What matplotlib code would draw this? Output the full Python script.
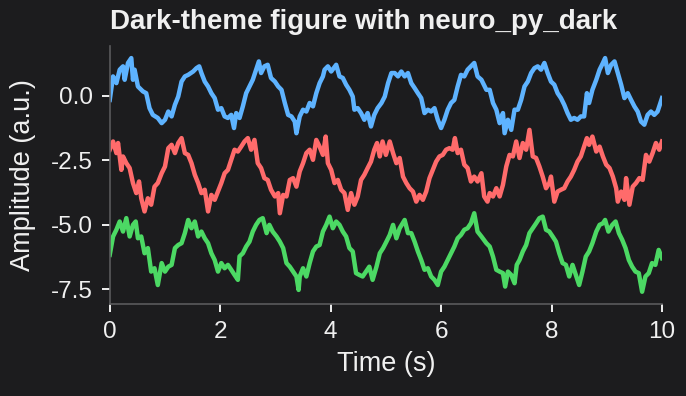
#!/usr/bin/env python3

import matplotlib
matplotlib.use("Agg")
import matplotlib.pyplot as plt


# values (time in s, amplitude in a.u.)
l_t_blue = [
    0.00, 0.06, 0.12, 0.18, 0.24, 0.27, 0.33, 0.39, 0.42, 0.45,
    0.51, 0.60, 0.66, 0.72, 0.78, 0.87, 0.94, 1.00, 1.06, 1.12,
    1.18, 1.24, 1.30, 1.36, 1.42, 1.51, 1.57, 1.62, 1.66, 1.72,
    1.78, 1.84, 1.90, 1.96, 2.02, 2.08, 2.14, 2.20, 2.25, 2.29,
    2.35, 2.41, 2.47, 2.53, 2.59, 2.65, 2.70, 2.74, 2.80, 2.86,
    2.92, 2.99, 3.05, 3.11, 3.17, 3.23, 3.29, 3.35, 3.38, 3.44,
    3.50, 3.56, 3.62, 3.68, 3.74, 3.80, 3.86, 3.89, 3.95, 4.01,
    4.10, 4.16, 4.22, 4.28, 4.34, 4.40, 4.43, 4.49, 4.55, 4.61,
    4.67, 4.73, 4.79, 4.85, 4.92, 4.98, 5.04, 5.10, 5.16, 5.22,
    5.28, 5.34, 5.40, 5.46, 5.52, 5.58, 5.64, 5.70, 5.76, 5.82,
    5.88, 5.94, 6.00, 6.06, 6.12, 6.18, 6.24, 6.30, 6.36, 6.42,
    6.48, 6.54, 6.60, 6.66, 6.73, 6.82, 6.88, 6.94, 7.00, 7.06,
    7.12, 7.15, 7.21, 7.27, 7.33, 7.39, 7.45, 7.51, 7.57, 7.63,
    7.69, 7.75, 7.81, 7.87, 7.93, 7.99, 8.05, 8.11, 8.17, 8.23,
    8.29, 8.35, 8.41, 8.47, 8.53, 8.59, 8.64, 8.68, 8.74, 8.81,
    8.87, 8.93, 8.97, 9.02, 9.08, 9.14, 9.20, 9.26, 9.32, 9.38,
    9.44, 9.50, 9.56, 9.62, 9.68, 9.74, 9.80, 9.86, 9.92, 10.00,
]
l_y_blue = [
    -0.16, 0.75, 0.49, 1.01, 1.14, 0.62, 1.27, 1.46, 0.62, 1.01,
    0.36, 0.17, 0.10, -0.48, -0.74, -0.86, -1.06, -0.93, -0.61, -0.80,
    -0.35, -0.03, 0.55, 0.75, 0.81, 0.94, 1.07, 1.14, 0.88, 0.55,
    0.36, 0.10, -0.09, -0.54, -0.48, -0.80, -0.86, -0.74, -1.25, -0.67,
    -0.86, -0.41, 0.10, 0.36, 0.62, 1.01, 1.33, 0.88, 1.14, 1.20,
    0.69, 0.55, 0.36, 0.23, -0.28, -0.74, -0.80, -1.00, -1.45, -0.80,
    -0.54, -0.61, -0.28, -0.41, 0.10, 0.49, 0.75, 1.01, 1.14, 0.94,
    1.20, 0.75, 0.69, 0.43, 0.23, -0.03, -0.54, -0.48, -0.67, -0.93,
    -0.67, -1.19, -0.74, -0.48, -0.28, -0.03, 0.49, 0.88, 0.88, 0.75,
    0.94, 0.75, 0.88, 0.49, 0.30, 0.10, -0.09, -0.67, -0.54, -0.61,
    -0.48, -0.93, -1.25, -0.93, -0.54, -0.28, -0.16, 0.36, 0.81, 0.75,
    1.01, 1.14, 1.27, 0.75, 0.62, 0.23, 0.23, -0.28, -0.54, -1.06,
    -0.67, -1.45, -0.93, -1.32, -0.54, -0.54, -0.16, 0.36, 0.55, 0.88,
    1.07, 1.14, 1.01, 1.27, 0.88, 0.55, 0.43, 0.10, -0.09, -0.35,
    -0.67, -0.93, -0.86, -0.93, -0.80, -0.80, 0.10, -0.28, 0.23, 0.62,
    1.01, 1.27, 1.46, 0.88, 1.20, 1.33, 0.88, 0.43, -0.09, 0.10,
    -0.16, -0.41, -0.61, -1.00, -1.12, -0.74, -0.61, -0.74, -0.61, -0.09,
]

l_t_red = [
    0.00, 0.06, 0.12, 0.15, 0.21, 0.24, 0.30, 0.36, 0.42, 0.48,
    0.53, 0.57, 0.63, 0.69, 0.75, 0.81, 0.87, 0.94, 1.00, 1.06,
    1.12, 1.18, 1.24, 1.30, 1.36, 1.42, 1.48, 1.54, 1.60, 1.66,
    1.72, 1.78, 1.84, 1.90, 1.96, 2.02, 2.08, 2.14, 2.20, 2.26,
    2.32, 2.38, 2.44, 2.50, 2.56, 2.62, 2.68, 2.74, 2.80, 2.86,
    2.92, 2.99, 3.05, 3.08, 3.14, 3.20, 3.26, 3.32, 3.38, 3.44,
    3.50, 3.56, 3.62, 3.68, 3.74, 3.80, 3.86, 3.91, 3.95, 4.01,
    4.07, 4.13, 4.19, 4.25, 4.31, 4.37, 4.43, 4.49, 4.55, 4.61,
    4.67, 4.73, 4.79, 4.84, 4.89, 4.94, 5.00, 5.07, 5.13, 5.19,
    5.25, 5.31, 5.37, 5.43, 5.49, 5.55, 5.61, 5.67, 5.73, 5.79,
    5.85, 5.91, 5.97, 6.03, 6.09, 6.15, 6.21, 6.25, 6.30, 6.36,
    6.42, 6.48, 6.54, 6.60, 6.66, 6.73, 6.78, 6.84, 6.88, 6.94,
    7.00, 7.06, 7.12, 7.18, 7.24, 7.30, 7.36, 7.42, 7.48, 7.54,
    7.60, 7.66, 7.72, 7.78, 7.84, 7.90, 7.96, 7.99, 8.05, 8.11,
    8.17, 8.23, 8.29, 8.35, 8.41, 8.47, 8.53, 8.59, 8.64, 8.68,
    8.74, 8.81, 8.87, 8.93, 8.99, 9.05, 9.11, 9.17, 9.20, 9.26,
    9.32, 9.35, 9.41, 9.47, 9.53, 9.59, 9.65, 9.71, 9.77, 9.83,
    9.89, 9.95, 10.00,
]
l_y_red = [
    -2.09, -1.77, -2.22, -1.83, -2.87, -2.35, -2.61, -2.80, -3.38, -3.77,
    -3.32, -3.97, -4.48, -3.97, -4.22, -3.52, -3.38, -3.00, -2.74, -2.03,
    -1.90, -2.22, -1.83, -1.64, -2.22, -2.29, -2.61, -3.06, -3.38, -3.77,
    -3.64, -4.48, -3.84, -4.03, -3.71, -3.38, -3.00, -2.87, -2.48, -2.09,
    -2.16, -1.97, -1.77, -1.64, -2.09, -1.71, -2.61, -2.80, -3.19, -3.26,
    -3.64, -3.90, -3.77, -4.55, -3.84, -3.90, -3.26, -3.19, -3.52, -2.93,
    -2.61, -2.22, -2.09, -2.48, -1.71, -1.97, -2.29, -1.58, -2.61, -2.87,
    -3.38, -3.26, -3.64, -3.77, -4.42, -3.77, -4.22, -3.90, -3.26, -3.06,
    -2.80, -2.55, -2.09, -1.83, -2.35, -1.77, -2.29, -1.77, -2.22, -2.61,
    -2.41, -3.13, -3.38, -3.58, -3.71, -4.10, -3.84, -4.03, -3.71, -3.19,
    -2.87, -2.55, -2.35, -2.29, -2.09, -2.03, -2.09, -1.64, -2.22, -2.09,
    -2.67, -2.80, -3.32, -3.13, -3.32, -3.00, -3.90, -4.10, -3.77, -3.90,
    -3.58, -3.90, -3.45, -2.74, -2.29, -2.35, -1.77, -2.41, -1.83, -2.09,
    -1.32, -2.35, -2.41, -2.74, -3.13, -3.58, -3.38, -3.13, -4.10, -3.71,
    -3.64, -3.58, -3.32, -3.13, -2.87, -2.55, -2.35, -1.97, -1.64, -1.90,
    -1.58, -2.16, -1.97, -2.35, -2.67, -2.80, -3.13, -3.58, -4.10, -3.71,
    -4.03, -3.19, -4.22, -3.52, -3.38, -3.19, -3.26, -2.29, -2.55, -2.22,
    -1.83, -2.09, -1.77,
]

l_t_green = [
    0.00, 0.06, 0.12, 0.18, 0.24, 0.30, 0.36, 0.42, 0.47, 0.51,
    0.57, 0.63, 0.69, 0.75, 0.81, 0.87, 0.94, 1.00, 1.06, 1.12,
    1.18, 1.24, 1.30, 1.36, 1.42, 1.48, 1.54, 1.60, 1.66, 1.72,
    1.78, 1.84, 1.90, 1.96, 2.02, 2.08, 2.14, 2.20, 2.26, 2.32,
    2.35, 2.41, 2.47, 2.53, 2.59, 2.65, 2.71, 2.77, 2.84, 2.89,
    2.95, 3.02, 3.08, 3.14, 3.20, 3.26, 3.32, 3.38, 3.42, 3.44,
    3.50, 3.56, 3.62, 3.68, 3.74, 3.80, 3.86, 3.92, 3.98, 4.04,
    4.10, 4.16, 4.22, 4.28, 4.34, 4.40, 4.46, 4.52, 4.58, 4.64,
    4.70, 4.76, 4.83, 4.89, 4.95, 5.01, 5.07, 5.13, 5.19, 5.25,
    5.34, 5.40, 5.46, 5.52, 5.58, 5.64, 5.70, 5.76, 5.82, 5.88,
    5.94, 6.00, 6.06, 6.12, 6.18, 6.24, 6.30, 6.36, 6.42, 6.48,
    6.54, 6.60, 6.66, 6.73, 6.82, 6.88, 6.94, 7.00, 7.06, 7.12,
    7.16, 7.21, 7.27, 7.33, 7.37, 7.42, 7.48, 7.54, 7.60, 7.66,
    7.72, 7.78, 7.84, 7.90, 7.96, 8.02, 8.08, 8.14, 8.20, 8.26,
    8.32, 8.38, 8.44, 8.50, 8.56, 8.62, 8.68, 8.74, 8.81, 8.87,
    8.93, 8.97, 9.03, 9.10, 9.16, 9.22, 9.28, 9.34, 9.40, 9.46,
    9.52, 9.58, 9.64, 9.70, 9.76, 9.82, 9.88, 9.94, 10.00,
]
l_y_green = [
    -6.16, -5.45, -5.19, -4.87, -5.26, -4.74, -5.45, -5.00, -4.87, -5.52,
    -5.45, -6.10, -5.90, -6.81, -6.68, -7.33, -6.48, -6.81, -6.62, -6.55,
    -5.90, -5.78, -5.71, -5.32, -4.81, -5.13, -4.87, -5.45, -5.26, -5.52,
    -5.71, -6.10, -6.36, -6.81, -6.48, -6.68, -6.55, -6.74, -6.94, -7.13,
    -6.22, -6.10, -5.84, -5.65, -5.26, -5.00, -4.81, -4.74, -5.32, -5.00,
    -5.26, -5.45, -5.65, -5.90, -6.48, -6.62, -6.81, -7.00, -7.52, -7.00,
    -6.68, -7.00, -6.48, -6.03, -5.84, -5.78, -5.26, -5.00, -4.68, -5.13,
    -4.87, -5.00, -5.26, -5.45, -5.90, -6.03, -6.87, -6.94, -7.00, -6.81,
    -6.62, -7.13, -6.62, -6.10, -5.90, -5.65, -5.39, -5.00, -5.52, -5.13,
    -4.81, -5.32, -5.32, -5.65, -6.03, -6.36, -6.74, -6.68, -7.00, -7.13,
    -7.33, -6.81, -6.62, -6.36, -6.10, -5.84, -5.52, -5.39, -5.19, -5.13,
    -4.94, -4.55, -5.26, -5.45, -5.71, -5.84, -6.23, -6.74, -6.81, -6.87,
    -7.39, -6.81, -6.94, -7.26, -6.55, -6.36, -6.03, -5.78, -5.32, -5.13,
    -4.94, -4.74, -4.68, -5.19, -5.26, -5.45, -5.65, -6.10, -6.48, -6.55,
    -7.00, -6.55, -6.94, -7.33, -6.81, -6.23, -6.03, -5.71, -5.26, -5.00,
    -4.94, -4.81, -5.26, -5.00, -4.87, -5.32, -5.58, -5.90, -6.36, -6.62,
    -6.81, -6.87, -7.59, -7.00, -6.87, -6.48, -6.55, -5.97, -6.29,
]

l_yticks = [0.0, -2.5, -5.0, -7.5]
l_xticks = [0, 2, 4, 6, 8, 10]


def set_dark_style():
    # neuro_py_dark look: near-black background, light text, grey spines
    plt.rcParams['font.family'] = ['Liberation Sans', 'DejaVu Sans']
    plt.rcParams['figure.facecolor'] = '#1c1c1e'
    plt.rcParams['axes.facecolor'] = '#1c1c1e'
    plt.rcParams['axes.edgecolor'] = '#5a5a5c'
    plt.rcParams['axes.linewidth'] = 1.2
    plt.rcParams['text.color'] = '#f0f0f0'
    plt.rcParams['axes.labelcolor'] = '#f0f0f0'
    plt.rcParams['xtick.color'] = '#f0f0f0'
    plt.rcParams['ytick.color'] = '#f0f0f0'
#


def draw_traces():
    fig = plt.figure(figsize=(6.86, 3.96), dpi=100)
    ax = fig.add_axes([0.160, 0.232, 0.805, 0.652])

    ax.plot(l_t_blue, l_y_blue, color='#5eb3ff', lw=3.2, solid_joinstyle='round')
    ax.plot(l_t_red, l_y_red, color='#ff6b6b', lw=3.2, solid_joinstyle='round')
    ax.plot(l_t_green, l_y_green, color='#4cd964', lw=3.2, solid_joinstyle='round')

    ax.set_xlim(0, 10)
    ax.set_ylim(-8.07, 1.93)
    ax.set_xticks(l_xticks)
    ax.set_yticks(l_yticks)
    ax.set_yticklabels(["%.1f" % v for v in l_yticks])

    for s_side in ('top', 'right'):
        ax.spines[s_side].set_visible(False)

    ax.tick_params(axis='both', labelsize=17.5, length=6, width=1.4, pad=6)
    ax.set_xlabel("Time (s)", fontsize=19.5, labelpad=6)
    ax.set_ylabel("Amplitude (a.u.)", fontsize=19.5, labelpad=11)
    ax.set_title("Dark-theme figure with neuro_py_dark", loc='left',
                 fontsize=20, fontweight='bold', pad=12)

    fig.savefig("out.png", dpi=100, facecolor=fig.get_facecolor())
#


if __name__ == '__main__':
    set_dark_style()
    draw_traces()
#
